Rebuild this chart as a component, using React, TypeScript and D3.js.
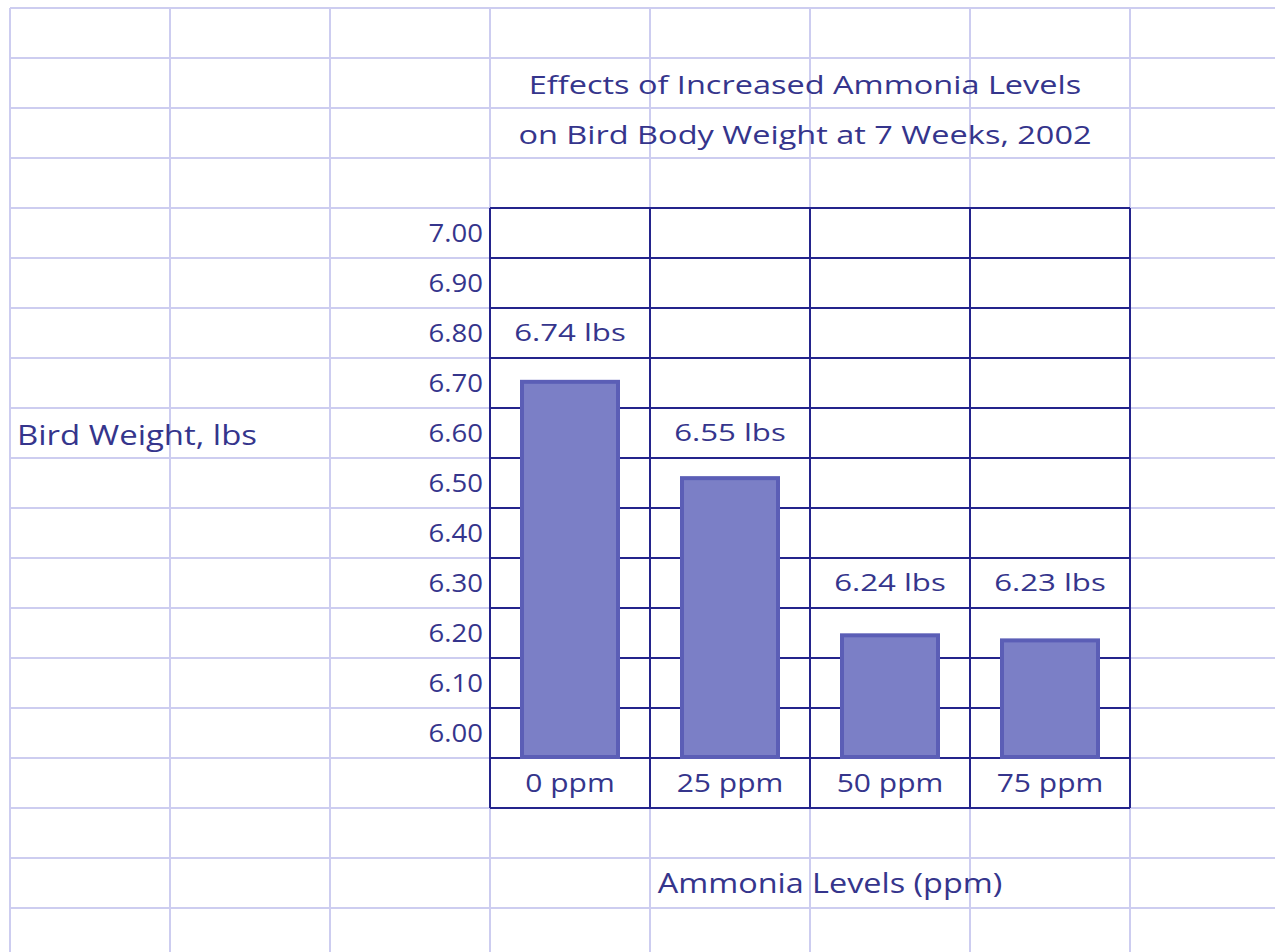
import React from "react";
import * as d3 from "d3";

const categories = ["0 ppm", "25 ppm", "50 ppm", "75 ppm"];
const weights = [6.74, 6.55, 6.24, 6.23];
const valueLabels = ["6.74 lbs", "6.55 lbs", "6.24 lbs", "6.23 lbs"];
const yTicks = [7.0, 6.9, 6.8, 6.7, 6.6, 6.5, 6.4, 6.3, 6.2, 6.1, 6.0];
const titleLines = [
  "Effects of Increased Ammonia Levels",
  "on Bird Body Weight at 7 Weeks, 2002",
];
const yLabel = "Bird Weight, lbs";
const xLabel = "Ammonia Levels (ppm)";

const W = 1275;
const H = 952;
const font = "'Open Sans', 'Noto Sans', sans-serif";
const textColor = "#35358c";
const darkLine = "#24248c";
const sheetLine = "#cdcdf0";

// spreadsheet cells
const colW = 160;
const rowH = 50;
const sheetX0 = 10;
const sheetY0 = 8;
const colEdges = d3.range(sheetX0, W + colW, colW);
const rowEdges = d3.range(sheetY0, H + rowH, rowH);

// text in the original is a bit wider than the fonts we have, so stretch it
const Label: React.FC<{
  x: number;
  y: number;
  size: number;
  sx: number;
  anchor?: "start" | "middle" | "end";
  children: React.ReactNode;
}> = ({ x, y, size, sx, anchor = "start", children }) => (
  <text
    transform={`translate(${x},${y}) scale(${sx},1)`}
    dy="0.35em"
    textAnchor={anchor}
    fontSize={size}
    fill={textColor}
  >
    {children}
  </text>
);

const App: React.FC = () => {
  const x = d3.scaleBand<string>().domain(categories).range([490, 1130]).padding(0);
  const y = d3.scaleLinear().domain([6.0, 7.0]).range([757, 250]);
  // row centres for tick labels (value rows of the sheet)
  const yRow = d3.scaleLinear().domain([6.0, 7.0]).range([733, 233]);

  const rowCenterAbove = (py: number) => {
    const idx = Math.floor((py - sheetY0) / rowH);
    return sheetY0 + (idx - 1) * rowH + rowH / 2;
  };

  const chartTop = 208;
  const chartBottom = 808;
  const chartLeft = 490;
  const chartRight = 1130;
  const barW = x.bandwidth() * 0.6;

  return (
    <svg
      width={W}
      height={H}
      style={{ position: "absolute", left: 0, top: 0, background: "#fff" }}
      fontFamily={font}
    >
      {/* sheet grid */}
      <g stroke={sheetLine} strokeWidth={2}>
        {colEdges.map((cx) => (
          <line key={"c" + cx} x1={cx} x2={cx} y1={sheetY0} y2={H} />
        ))}
        {rowEdges.map((ry) => (
          <line key={"r" + ry} x1={sheetX0} x2={W} y1={ry} y2={ry} />
        ))}
      </g>

      {/* chart block borders */}
      <g stroke={darkLine} strokeWidth={2}>
        {d3.range(chartTop, chartBottom + 1, rowH).map((ry) => (
          <line key={"dr" + ry} x1={chartLeft} x2={chartRight} y1={ry} y2={ry} />
        ))}
        {[...categories.map((c) => x(c) as number), chartRight].map((cx) => (
          <line key={"dc" + cx} x1={cx} x2={cx} y1={chartTop} y2={chartBottom} />
        ))}
      </g>

      {/* bars */}
      {categories.map((c, i) => {
        const bx = (x(c) as number) + (x.bandwidth() - barW) / 2;
        return (
          <rect
            key={c}
            x={bx}
            y={y(weights[i])}
            width={barW}
            height={y(6.0) - y(weights[i])}
            fill="#7b7fc6"
            stroke="#5b5eb6"
            strokeWidth={4}
          />
        );
      })}

      {/* value labels */}
      {categories.map((c, i) => (
        <Label
          key={"v" + c}
          x={(x(c) as number) + x.bandwidth() / 2}
          y={rowCenterAbove(y(weights[i]))}
          size={24}
          sx={1.3}
          anchor="middle"
        >
          {valueLabels[i]}
        </Label>
      ))}

      {/* y tick labels */}
      {yTicks.map((t) => (
        <Label key={"t" + t} x={483} y={yRow(t)} size={25} sx={1.1} anchor="end">
          {t.toFixed(2)}
        </Label>
      ))}

      {/* x category labels */}
      {categories.map((c) => (
        <Label
          key={"x" + c}
          x={(x(c) as number) + x.bandwidth() / 2}
          y={783}
          size={25}
          sx={1.2}
          anchor="middle"
        >
          {c}
        </Label>
      ))}

      {/* title */}
      {titleLines.map((line, i) => (
        <Label
          key={"title" + i}
          x={(chartLeft + chartRight) / 2 - 5}
          y={85 + i * 50}
          size={25}
          sx={1.3}
          anchor="middle"
        >
          {line}
        </Label>
      ))}

      <Label x={17} y={436} size={27} sx={1.22}>
        {yLabel}
      </Label>
      <Label x={830} y={884} size={27} sx={1.2} anchor="middle">
        {xLabel}
      </Label>
    </svg>
  );
};

export default App;
